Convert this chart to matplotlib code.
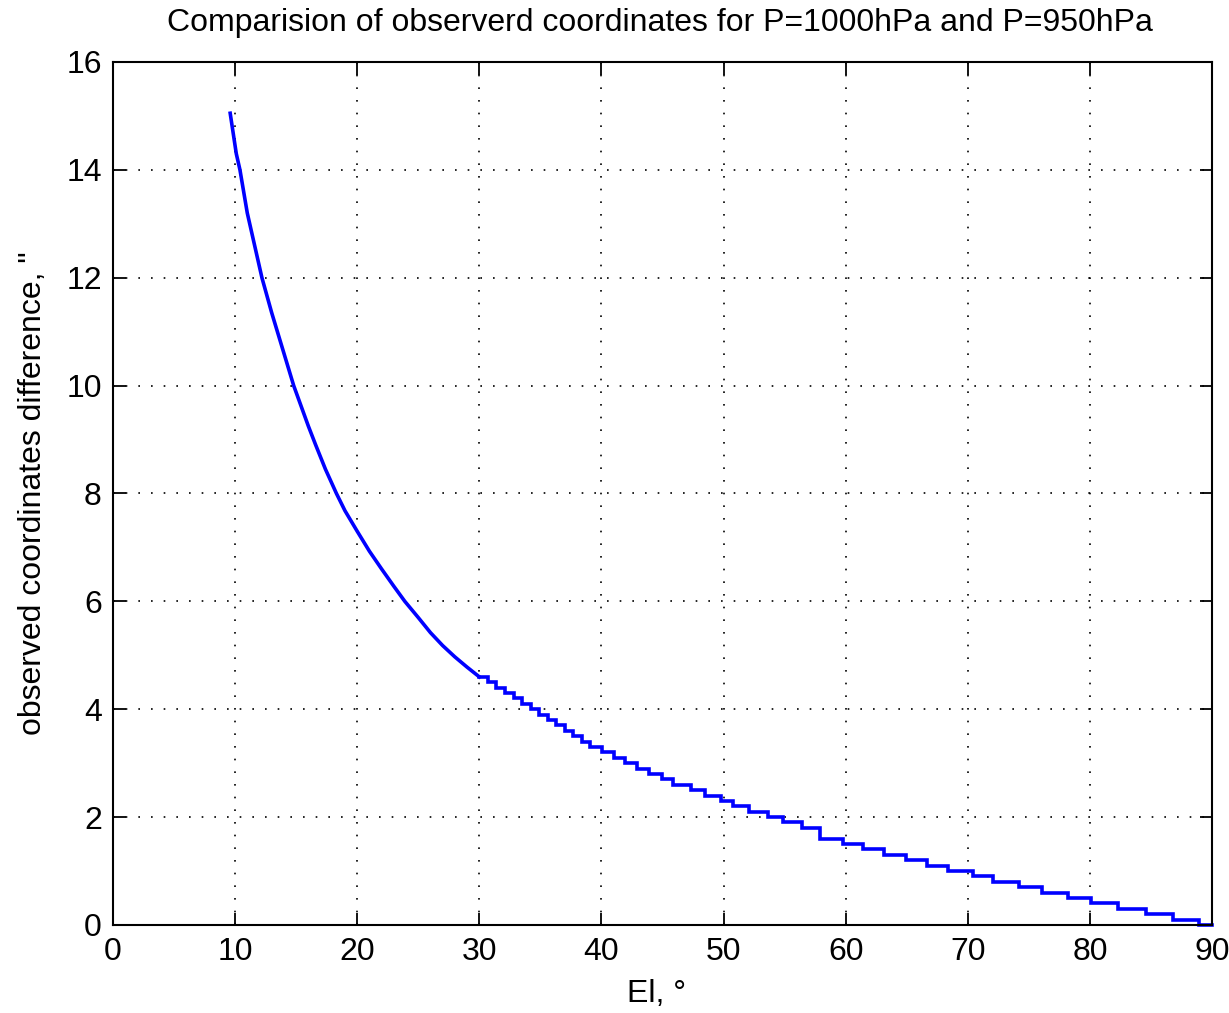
import matplotlib
matplotlib.use("Agg")
import matplotlib.pyplot as plt

# smooth upper part (El, difference)
el_upper = [9.6, 10.1, 10.4, 11.0, 11.5, 12.2, 13.0, 14.0, 14.8, 16.0, 16.6, 17.4, 18.3,
            19.0, 20.0, 21.0, 22.0, 23.0, 23.9, 25.0, 26.0, 27.0, 28.0, 29.0, 30.0]
val_upper = [15.05, 14.3, 14.0, 13.2, 12.7, 12.0, 11.35, 10.6, 10.0, 9.25, 8.9, 8.45, 8.0,
             7.68, 7.3, 6.93, 6.6, 6.28, 6.0, 5.7, 5.42, 5.18, 4.97, 4.78, 4.6]

# stepped lower part: elevation where the level starts, and the level
el_steps = [30.0, 30.7, 31.4, 32.1, 32.8, 33.5, 34.2, 34.9, 35.6, 36.3, 37.0, 37.7, 38.4,
            39.1, 40.05, 41.0, 41.97, 42.9, 43.9, 44.97, 45.9, 47.3, 48.5, 49.75, 50.8,
            52.1, 53.6, 54.9, 56.45, 57.9, 59.8, 61.4, 63.1, 64.9, 66.7, 68.4, 70.4,
            72.1, 74.2, 76.1, 78.2, 80.1, 82.3, 84.6, 86.8, 88.9, 90.0]
val_steps = [4.6, 4.5, 4.4, 4.3, 4.2, 4.1, 4.0, 3.9, 3.8, 3.7, 3.6, 3.5, 3.4,
             3.3, 3.2, 3.1, 3.0, 2.9, 2.8, 2.7, 2.6, 2.5, 2.4, 2.3, 2.2,
             2.1, 2.0, 1.9, 1.8, 1.6, 1.5, 1.4, 1.3, 1.2, 1.1, 1.0, 0.9,
             0.8, 0.7, 0.6, 0.5, 0.4, 0.3, 0.2, 0.1, 0.0, 0.0]

xticks = [0, 10, 20, 30, 40, 50, 60, 70, 80, 90]
yticks = [0, 2, 4, 6, 8, 10, 12, 14, 16]

plt.rcParams['font.family'] = ['Liberation Sans', 'DejaVu Sans']
FS = 23

fig = plt.figure(figsize=(12.29, 10.13), dpi=100)
ax = fig.add_axes([0.0919, 0.0869, 0.8943, 0.8519])

ax.plot(el_upper, val_upper, color='#0000ff', lw=2.6, solid_joinstyle='round',
        clip_on=False, zorder=3)
ax.plot(el_steps, val_steps, color='#0000ff', lw=2.6, drawstyle='steps-post',
        solid_joinstyle='miter', clip_on=False, zorder=3)

ax.set_xlim(0, 90)
ax.set_ylim(0, 16)
ax.set_xticks(xticks)
ax.set_yticks(yticks)
ax.grid(True, color='black', linestyle=(0, (1, 6.6)), linewidth=1.2)
ax.tick_params(axis='both', direction='in', length=9, width=1.3, top=True, right=True,
               labelsize=FS)
ax.tick_params(axis='x', pad=9)
ax.tick_params(axis='y', pad=8)
for s in ax.spines.values():
    s.set_linewidth(1.5)
    s.set_zorder(4)

fig.text(0.537, 0.977,
         'Comparision of observerd coordinates for P=1000hPa and P=950hPa',
         fontsize=FS, ha='center', va='center')
ax.set_xlabel('El, \u00b0', fontsize=FS, va='center')
ax.xaxis.set_label_coords(0.495, -0.0805)
ax.set_ylabel('observed coordinates difference, "', fontsize=FS, va='center')
ax.yaxis.set_label_coords(-0.0725, 0.5)

fig.savefig('out.png', dpi=100)
